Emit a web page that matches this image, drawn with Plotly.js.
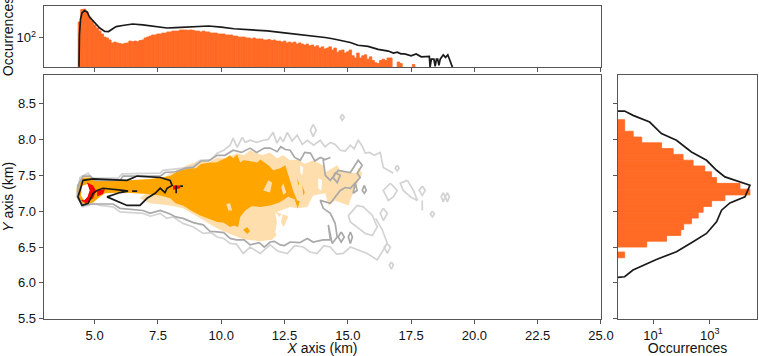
<!DOCTYPE html>
<html><head><meta charset="utf-8">
<script src="https://cdn.plot.ly/plotly-3.0.1.min.js"></script>
<style>html,body{margin:0;padding:0;background:#fff}</style></head>
<body><div id="chart" style="width:759px;height:356px"></div>
<script>
const n=null;
const topBinX=[4.4,4.5,4.6,4.7,4.8,4.9,5.0,5.1,5.2,5.3,5.4,5.5,5.6,5.7,5.8,5.9,6.0,6.1,6.2,6.3,6.4,6.5,6.6,6.7,6.8,6.9,7.0,7.1,7.2,7.3,7.4,7.5,7.6,7.7,7.8,7.9,8.0,8.1,8.2,8.3,8.4,8.5,8.6,8.7,8.8,8.9,9.0,9.1,9.2,9.3,9.4,9.5,9.6,9.7,9.8,9.9,10.0,10.1,10.2,10.3,10.4,10.5,10.6,10.7,10.8,10.9,11.0,11.1,11.2,11.3,11.4,11.5,11.6,11.7,11.8,11.9,12.0,12.1,12.2,12.3,12.4,12.5,12.6,12.7,12.8,12.9,13.0,13.1,13.2,13.3,13.4,13.5,13.6,13.7,13.8,13.9,14.0,14.1,14.2,14.3,14.4,14.5,14.6,14.7,14.8,14.9,15.0,15.1,15.2,15.3,15.4,15.5,15.6,15.7,15.8,15.9,16.0,16.1,16.2,16.3,16.4,16.5,16.6,16.7,16.8,16.9,17.0,17.1,17.2,17.3,17.4,17.5,17.6];
const topBinCounts=[277,630,650,535,385,297,228,187,153,126,103,97,85,70,74,70,67,65,68,70,79,76,79,76,82,85,97,103,110,118,118,126,126,134,134,144,144,153,153,153,164,164,164,160,164,160,153,153,144,153,144,144,134,134,134,126,126,126,118,118,118,110,110,103,103,103,97,97,91,97,91,91,91,85,85,88,82,85,79,79,74,79,70,74,70,74,65,70,65,61,65,58,61,54,58,50,54,47,50,54,44,50,38,42,44,36,39,44,30,26,36,26,30,32,24,28,22,19,18,22,24,22,26,26,n,n,20,18,n,n,n,n,17];
const topLineX=[4.38,4.40,4.44,4.50,4.60,4.70,4.80,5.00,5.20,5.40,5.55,5.70,5.85,6.10,6.50,6.90,7.20,7.55,7.86,8.20,8.50,9.00,9.50,10.00,10.50,11.20,11.82,12.50,13.10,13.50,13.80,14.10,14.40,14.70,15.10,15.40,15.80,16.20,16.60,16.80,16.95,17.10,17.25,17.50,17.70,17.90,18.10,18.22,18.25,18.30,18.40,18.45,18.50,18.55,18.60,18.65,18.77,18.86,18.95,19.05,19.12,19.15];
const topLineCounts=[14.5,120,330,501,590,540,385,270,187,150,148,175,205,220,243,230,213,200,187,192,198,205,213,198,178,165,154,135,122,112,104,100,92,82,72,60,56,46,41,36,38,34,34,30,34,28,28,29,14.5,24,24,15,24,24,16,24,32,27,32,20,15,14.5];
const sideBinY=[8.237,8.156,8.075,7.994,7.914,7.833,7.752,7.671,7.590,7.510,7.429,7.348,7.267,7.187,7.106,7.025,6.944,6.864,6.783,6.702,6.621,6.540,6.39];
const sideBinCounts=[1,1,2,4,20,51,114,257,664,1150,1720,11500,25700,3390,1150,580,390,225,120,95,30,6,1];
const sideLineY=[8.397,8.397,8.337,8.244,8.082,7.989,7.826,7.71,7.571,7.478,7.362,7.20,7.116,7.014,6.851,6.689,6.573,6.434,6.327,6.248,6.178,6.085,6.076];
const sideLineCounts=[.58,1,1.97,7.6,19.7,66.6,225,762,1720,3390,25700,17200,5080,2580,1720,762,257,66.6,13.1,5.1,1.97,1,.58];

const lightFillX=[6.79,7.19,7.98,8.49,9.17,9.84,10.35,10.87,11.54,12.01,12.33,12.53,12.65,12.18,12.72,13.00,13.40,13.63,14.11,14.23,14.50,15.02,15.21,15.57,15.41,15.37,15.10,14.70,14.58,14.11,14.03,13.63,13.30,13.05,12.72,12.45,12.20,11.93,11.60,11.14,10.90,10.63,10.20,9.84,9.50,9.17,8.65,7.98];
const lightFillY=[7.18,7.11,7.08,7.04,6.90,6.76,6.68,6.61,6.58,6.60,6.72,6.82,6.93,6.99,7.06,7.04,7.06,7.22,7.25,7.08,7.15,7.08,7.25,7.53,7.61,7.53,7.54,7.57,7.64,7.54,7.64,7.71,7.66,7.72,7.71,7.78,7.74,7.82,7.78,7.85,7.78,7.81,7.74,7.75,7.68,7.71,7.64,7.53];
const gapX=[12.13,12.30,12.45,12.36,12.48,12.30,12.24,12.13,12.20,n,13.83,13.99,13.95,13.83,n,13.12,13.24,13.20,13.12];
const gapY=[6.99,6.92,6.99,6.85,6.76,6.72,6.64,6.70,6.85,n,7.46,7.43,7.29,7.32,n,7.64,7.61,7.50,7.54];
const orangeX=[5.02,6.28,7.19,7.98,8.30,8.77,9.00,9.20,9.56,9.80,10.16,10.35,10.47,10.63,10.75,10.87,11.10,11.42,11.55,11.74,11.90,12.05,12.33,12.53,12.65,12.84,13.00,12.65,12.30,11.93,11.54,11.20,10.95,10.75,10.67,10.50,10.35,10.10,9.84,9.50,9.17,8.85,8.49,8.20,7.98,7.59,7.07,6.12,5.41,5.21,4.90,4.50,4.26,4.30,4.54,4.82,n,10.87,11.02,11.14,11.02,n,13.00,13.08,13.04,n,13.20,13.30,13.24,n,12.90,13.10,13.02];
const orangeY=[7.42,7.43,7.45,7.49,7.56,7.60,7.60,7.66,7.68,7.68,7.74,7.78,7.74,7.79,7.68,7.71,7.70,7.68,7.72,7.67,7.63,7.57,7.60,7.64,7.50,7.29,7.15,7.20,7.12,7.08,7.06,7.07,7.01,6.92,6.78,6.80,6.78,6.84,6.85,6.90,6.94,7.00,7.08,7.11,7.18,7.22,7.24,7.26,7.25,7.20,7.11,7.08,7.20,7.36,7.47,7.47,n,6.74,6.78,6.72,6.68,n,7.46,7.38,7.36,n,7.36,7.26,7.22,n,7.16,7.14,7.04];
const paleSpotX=[11.66,11.86,12.01,11.93,n,10.20,10.35,10.43,10.28,n,12.45,12.57,12.45,12.37];
const paleSpotY=[7.29,7.43,7.40,7.26,n,7.10,7.11,7.01,7.01,n,7.39,7.26,7.23,7.33];
const redX=[4.70,4.94,5.06,4.94,4.66,4.46,4.66,4.78,4.70,n,5.10,5.41,5.33,5.10,n,8.10,8.38,8.38,8.10];
const redY=[7.40,7.36,7.28,7.18,7.11,7.15,7.18,7.29,7.36,n,7.28,7.31,7.24,7.21,n,7.36,7.36,7.32,7.30];
const centreX=[4.50,4.72,4.80,4.72,4.58,4.46];
const centreY=[7.35,7.38,7.29,7.20,7.15,7.22];

const outerX=[16.80,16.40,16.28,16.05,15.85,15.69,15.55,15.41,15.25,15.10,14.90,14.70,14.50,14.31,14.10,13.91,13.65,13.40,13.20,13.00,12.80,12.61,12.45,12.33,12.20,12.05,11.85,11.66,11.40,11.14,10.95,10.83,10.63,10.47,10.35,10.10,9.84,9.60,9.17,8.90,8.49,7.70,7.59,6.08,5.93,4.90,4.74,4.42,4.30,4.30,4.54,4.94,5.21,5.73,6.00,6.91,7.20,7.59,7.85,8.10,8.49,8.90,9.29,9.60,9.84,10.10,10.35,10.60,10.87,11.14,11.54,11.93,12.25,12.61,12.90,13.24,13.50,13.79,14.05,14.31,14.55,14.82,15.10,15.37,15.77,16.16,16.40,16.56,16.36,16.10,n,
15.10,15.37,15.61,15.97,16.16,15.97,15.69,15.10,15.02,15.10,n,16.40,16.56,16.40,16.28,16.40,n,16.68,16.95,16.80,16.60,16.40,16.68,n,17.35,17.59,17.75,17.47,17.19,17.07,17.35,n,17.94,18.06,17.94,17.82,17.94,n,18.77,18.85,18.77,18.69,18.77,n,18.93,19.01,18.93,18.85,18.93,n,18.34,18.42,18.34,18.26,18.34,n,16.72,16.80,16.72,16.64,16.72,n,14.78,14.86,14.78,14.70,14.78,n,13.63,13.75,13.63,13.52,13.63,n,16.95,17.03,16.95,16.87,16.95,n,16.56,16.68,16.56,16.44,16.56,n,17.94,17.94];
const outerY=[7.53,7.61,7.82,7.78,7.82,7.81,7.92,7.99,7.87,7.92,7.84,7.85,7.93,7.96,7.90,7.99,7.92,7.99,7.93,8.06,7.98,8.10,7.97,8.03,7.95,8.10,8.00,7.99,7.96,7.99,7.96,8.03,7.89,8.02,7.92,7.85,7.81,7.72,7.71,7.63,7.60,7.57,7.53,7.52,7.46,7.46,7.53,7.47,7.26,7.20,7.06,7.11,7.08,7.06,6.99,6.97,6.93,6.97,6.90,6.92,6.83,6.78,6.69,6.70,6.64,6.62,6.55,6.54,6.41,6.50,6.41,6.53,6.44,6.41,6.52,6.50,6.43,6.41,6.52,6.50,6.40,6.41,6.50,6.46,6.41,6.32,6.46,6.55,6.74,6.90,n,
6.97,7.08,7.06,6.94,6.78,6.66,6.69,6.85,6.94,6.97,n,7.04,6.97,6.87,6.97,7.04,n,7.39,7.29,7.20,7.15,7.29,7.39,n,7.43,7.29,7.15,7.20,7.29,7.39,7.43,n,7.35,7.29,7.22,7.29,7.35,n,7.26,7.20,7.13,7.20,7.26,n,7.26,7.20,7.13,7.20,7.26,n,7.00,6.96,6.92,6.96,7.00,n,6.29,6.25,6.19,6.25,6.29,n,8.35,8.31,8.27,8.31,8.35,n,8.21,8.13,8.04,8.13,8.21,n,7.64,7.60,7.56,7.60,7.64,n,6.55,6.50,6.41,6.50,6.55,n,7.15,7.01];
const innerX=[4.34,4.34,4.54,4.82,5.02,6.00,6.12,7.59,7.78,8.20,8.60,8.89,9.20,9.50,9.84,10.15,10.47,10.80,11.14,11.40,11.70,11.93,12.21,12.35,12.53,12.72,12.90,13.12,13.30,13.52,13.70,13.91,14.10,14.31,14.03,14.11,14.31,14.62,15.10,15.41,15.57,15.37,15.49,15.10,14.90,14.70,14.31,13.91,14.03,14.31,14.50,14.58,14.38,14.23,14.31,14.03,13.63,13.40,13.10,12.72,12.50,12.33,12.10,11.93,11.70,11.50,11.14,10.90,10.60,10.35,10.10,9.84,9.55,9.29,8.90,8.49,8.20,7.98,7.59,7.19,6.91,6.00,5.73,4.94,4.54,4.34,n,
14.74,14.86,14.74,14.62,14.74,n,15.10,15.18,15.10,15.02,15.10,n,15.65,15.73,15.65,15.57,15.65,n,15.29,15.37,15.21,15.25,15.29,n,14.50,14.70,14.58,14.42,14.50];
const innerY=[7.20,7.36,7.49,7.49,7.43,7.43,7.49,7.49,7.54,7.55,7.60,7.61,7.70,7.70,7.78,7.78,7.85,7.82,7.88,7.82,7.88,7.88,7.83,7.90,7.86,7.85,7.75,7.71,7.82,7.81,7.70,7.75,7.72,7.75,7.71,7.50,7.43,7.57,7.54,7.71,7.64,7.53,7.47,7.32,7.33,7.29,7.11,7.15,7.04,6.97,6.83,6.64,6.55,6.81,6.60,6.60,6.57,6.62,6.56,6.57,6.52,6.53,6.58,6.57,6.50,6.56,6.53,6.60,6.60,6.62,6.70,6.71,6.72,6.81,6.84,6.90,6.92,6.96,7.01,6.97,7.01,7.04,7.10,7.10,7.08,7.20,n,
6.71,6.64,6.57,6.64,6.71,n,6.71,6.64,6.55,6.64,6.71,n,7.36,7.29,7.25,7.29,7.36,n,7.39,7.29,7.25,7.35,7.39,n,7.54,7.50,7.40,7.47,7.54];
const coreX=[4.42,4.54,4.94,6.28,6.68,7.59,7.98,8.06,7.86,7.78,7.59,7.39,7.07,6.79,6.28,5.93,5.49,6.00,6.32,6.12,5.33,5.10,4.94,4.74,4.50,4.34,4.42,n,6.48,6.68,n,8.22,8.22,n,8.38,8.49];
const coreY=[7.29,7.43,7.45,7.43,7.49,7.47,7.43,7.36,7.32,7.26,7.32,7.25,7.18,7.08,7.08,7.13,7.20,7.26,7.28,7.29,7.32,7.29,7.25,7.11,7.08,7.20,7.29,n,7.28,7.28,n,7.36,7.25,n,7.35,7.35];

const axisColor='#555';
const barColor='#ff6a24';
const fontBase={family:'"Liberation Sans",Arial,sans-serif',size:13,color:'#111'};
const poly=(x,y,c)=>({type:'scatter',mode:'lines',x,y,fill:'toself',fillcolor:c,line:{width:0},hoverinfo:'skip',xaxis:'x',yaxis:'y'});
const path=(x,y,c,w)=>({type:'scatter',mode:'lines',x,y,line:{color:c,width:w},hoverinfo:'skip',xaxis:'x',yaxis:'y'});
const traces=[
 poly(lightFillX,lightFillY,'#ffdead'),
 poly(gapX,gapY,'#ffffff'),
 poly(orangeX,orangeY,'#ffa500'),
 poly(paleSpotX,paleSpotY,'#ffdead'),
 poly(redX,redY,'#ff0000'),
 poly(centreX,centreY,'#ffffff'),
 path(outerX,outerY,'#d3d3d3',1.7),
 path(innerX,innerY,'#a9a9a9',1.7),
 path(coreX,coreY,'#1a1a1a',1.7),
 {type:'bar',x:topBinX,y:topBinCounts,width:0.1,marker:{color:barColor,line:{width:0.8,color:barColor}},xaxis:'x2',yaxis:'y2',hoverinfo:'skip'},
 {type:'scatter',mode:'lines',x:topLineX,y:topLineCounts,line:{color:'#1a1a1a',width:1.7},xaxis:'x2',yaxis:'y2',hoverinfo:'skip'},
 {type:'bar',orientation:'h',y:sideBinY,x:sideBinCounts,width:0.0808,marker:{color:barColor,line:{width:0.8,color:barColor}},xaxis:'x3',yaxis:'y3',hoverinfo:'skip'},
 {type:'scatter',mode:'lines',x:sideLineCounts,y:sideLineY,line:{color:'#1a1a1a',width:1.7},xaxis:'x3',yaxis:'y3',hoverinfo:'skip'}
];
const base={showgrid:false,zeroline:false,showline:true,linecolor:axisColor,linewidth:1.3,mirror:true,ticks:'outside',ticklen:4,tickwidth:1,tickcolor:axisColor,tickfont:fontBase};
const xt=[5,7.5,10,12.5,15,17.5,20,22.5,25];
const yt=[5.5,6,6.5,7,7.5,8,8.5];
const layout={width:759,height:356,margin:{l:0,r:0,t:0,b:0},showlegend:false,paper_bgcolor:'#fff',plot_bgcolor:'#fff',barmode:'overlay',
 xaxis:{...base,domain:[0.0580,0.7918],range:[3,25],tickvals:xt,ticktext:xt.map(v=>v.toFixed(1)),anchor:'y',
   title:{text:'<i>X</i> axis (km)',font:{...fontBase,size:14},standoff:1}},
 yaxis:{...base,domain:[0.1048,0.7893],range:[5.5,8.9],tickvals:yt,ticktext:yt.map(v=>v.toFixed(1)),anchor:'x',
   title:{text:'<i>Y</i> axis (km)',font:{...fontBase,size:14},standoff:6}},
 xaxis2:{...base,domain:[0.0580,0.7918],range:[3,25],tickvals:xt,showticklabels:false,anchor:'y2'},
 yaxis2:{...base,type:'log',domain:[0.8118,0.9831],range:[1.157,2.9],tickvals:[100],ticktext:['10<sup>2</sup>'],anchor:'x2',
   title:{text:'Occurrences',font:{...fontBase,size:14},standoff:6}},
 xaxis3:{...base,type:'log',domain:[0.8142,0.9974],range:[-0.235,4.66],tickvals:[10,1000],ticktext:['10<sup>1</sup>','10<sup>3</sup>'],anchor:'y3',
   title:{text:'Occurrences',font:{...fontBase,size:14},standoff:1}},
 yaxis3:{...base,domain:[0.1048,0.7893],range:[5.5,8.9],tickvals:yt,showticklabels:false,anchor:'x3'}
};
Plotly.newPlot('chart',traces,layout,{displayModeBar:false,staticPlot:true});
</script></body></html>
